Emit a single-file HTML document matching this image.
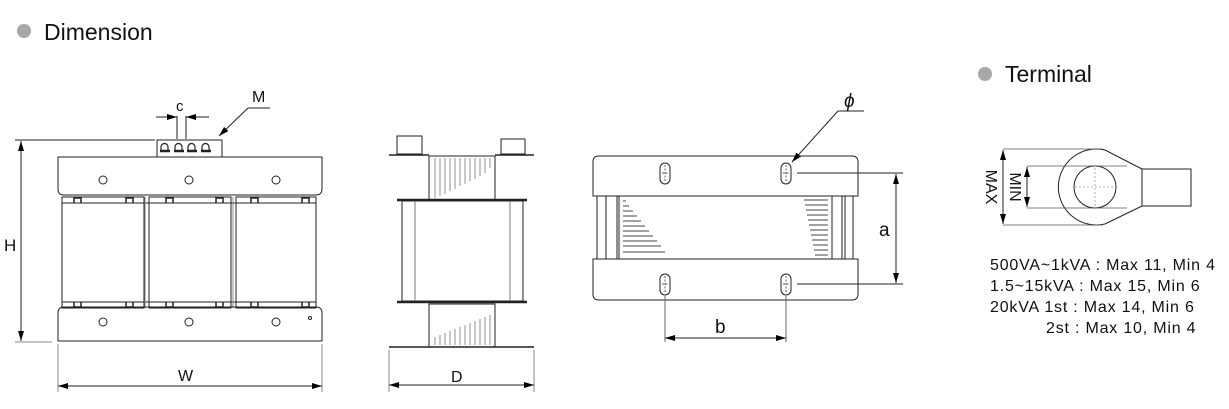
<!DOCTYPE html>
<html><head><meta charset="utf-8"><style>
html,body{margin:0;padding:0;background:#fff;width:1229px;height:409px;overflow:hidden}
svg{display:block}
text{font-family:"Liberation Sans",sans-serif;fill:#111}
</style></head><body>
<svg width="1229" height="409" viewBox="0 0 1229 409" xmlns="http://www.w3.org/2000/svg">
<defs>
<marker id="ar" viewBox="0 0 10 6" refX="10" refY="3" markerWidth="10" markerHeight="6" orient="auto-start-reverse" markerUnits="userSpaceOnUse"><path d="M0,0L10,3L0,6z" fill="#000"/></marker>
</defs>
<circle cx="24" cy="31" r="7" fill="#a8a8a8"/>
<text x="44" y="40" font-size="23">Dimension</text>
<circle cx="985" cy="74" r="7" fill="#a8a8a8"/>
<text x="1005" y="82" font-size="23">Terminal</text>

<g stroke="#222" stroke-width="1" fill="none">
<rect x="157" y="140" width="65" height="17" fill="#fff"/>
<g stroke-width="1.2">
<path d="M161,151v-4a3.5,3.5 0 0 1 7,0v4M175,151v-4a3.5,3.5 0 0 1 7,0v4M188,151v-4a3.5,3.5 0 0 1 7,0v4M202,151v-4a3.5,3.5 0 0 1 7,0v4"/>
<path d="M160,151h10M174,151h10M187,151h10M201,151h10" stroke-width="2.5"/>
</g>
<path d="M58,157H322V189Q322,195 316,195H64Q58,195 58,189Z"/>
<rect x="62" y="197" width="82" height="111"/>
<rect x="149" y="197" width="82" height="111"/>
<rect x="236" y="197" width="80" height="111"/>
<line x1="62" y1="203" x2="316" y2="203"/>
<line x1="62" y1="302" x2="316" y2="302"/>
<line x1="145" y1="197" x2="145" y2="308" stroke="#888"/>
<line x1="233" y1="197" x2="233" y2="308" stroke="#888"/>
<path d="M64,307H316Q322,307 322,313V341H58V313Q58,307 64,307Z"/>
<circle cx="103" cy="180" r="4"/><circle cx="189" cy="180" r="4"/><circle cx="276" cy="180" r="4"/>
<circle cx="103" cy="322" r="4"/><circle cx="189" cy="322" r="4"/><circle cx="276" cy="322" r="4"/>
<circle cx="310" cy="318" r="1.5"/>
<g stroke-width="1.5">
<path d="M74,203v-5h7v5M166,203v-5h7v5M216,203v-5h7v5M251,203v-5h7v5M302,203v-5h7v5M126,203v-5h7v5"/>
<path d="M74,302v5h7v-5M166,302v5h7v-5M216,302v5h7v-5M251,302v5h7v-5M302,302v5h7v-5M126,302v5h7v-5"/>
</g>
<line x1="15" y1="140" x2="155" y2="140"/>
<line x1="15" y1="342" x2="52" y2="342" stroke="#888"/>
<line x1="21" y1="141" x2="21" y2="341" marker-start="url(#ar)" marker-end="url(#ar)"/>
<line x1="58" y1="344" x2="58" y2="392" stroke="#888"/>
<line x1="322" y1="344" x2="322" y2="392" stroke="#888"/>
<line x1="58" y1="386" x2="322" y2="386" marker-start="url(#ar)" marker-end="url(#ar)"/>
<line x1="177" y1="116" x2="177" y2="139"/><line x1="186" y1="116" x2="186" y2="139"/>
<line x1="156" y1="117" x2="177" y2="117" marker-end="url(#ar)"/>
<line x1="209" y1="117" x2="186" y2="117" marker-end="url(#ar)"/>
<line x1="248" y1="108" x2="270" y2="108"/>
<line x1="248" y1="108" x2="219" y2="136" marker-end="url(#ar)"/>

<rect x="397" y="136" width="25" height="18"/>
<rect x="501" y="139" width="24" height="15"/>
<line x1="389" y1="155" x2="429" y2="155" stroke-width="1.5"/>
<line x1="495" y1="155" x2="534" y2="155" stroke-width="1.5"/>
<rect x="429" y="156" width="66" height="44"/>
<rect x="429" y="304" width="66" height="43"/>
<line x1="397" y1="200" x2="527" y2="200" stroke-width="2.5"/>
<line x1="397" y1="302" x2="527" y2="302" stroke-width="2.5"/>
<rect x="402" y="201" width="121" height="100"/>
<line x1="415" y1="201" x2="415" y2="301" stroke="#777"/>
<line x1="510" y1="201" x2="510" y2="301" stroke="#777"/>
<line x1="389" y1="347" x2="534" y2="347" stroke-width="1.5"/>
<g stroke="#777" stroke-width="0.8">
<path d="M435,158v40M440,158v38M445,158v36M450,158v33M455,158v31M460,158v28M465,158v26M470,158v23M475,158v21M480,158v18M485,158v15M490,158v10"/>
<path d="M435,345v-8M440,345v-10M445,345v-12M450,345v-14M455,345v-16M460,345v-18M465,345v-20M470,345v-22M475,345v-24M480,345v-26M485,345v-28M490,345v-30"/>
</g>
<line x1="389" y1="350" x2="389" y2="392" stroke="#888"/>
<line x1="534" y1="350" x2="534" y2="392" stroke="#888"/>
<line x1="389" y1="385" x2="534" y2="385" marker-start="url(#ar)" marker-end="url(#ar)"/>

<path d="M599,156H852Q858,156 858,162V196H593V162Q593,156 599,156Z"/>
<path d="M593,259H858V294Q858,300 852,300H599Q593,300 593,294Z"/>
<path d="M597,196V259M606,196V259M617,196V259M619,196V259M832,196V259M842,196V259M845,196V259M853,196V259"/>
<g stroke="#444" stroke-width="1">
<path d="M623,201h3M623,206h6M623,211h10M623,216h14M623,221h18M623,226h22M623,231h26M623,236h30M623,241h34M623,246h38M623,252h42"/>
<path d="M804,200h24M805,205h23M806,210h22M807,215h21M808,220h20M809,225h19M810,230h18M811,235h17M812,240h16M813,245h15M814,250h14M815,255h13"/>
</g>
<rect x="660" y="163" width="10" height="21" rx="5"/>
<rect x="781" y="163" width="10" height="21" rx="5"/>
<rect x="660" y="274" width="10" height="21" rx="5"/>
<rect x="781" y="274" width="10" height="21" rx="5"/>
<g stroke-dasharray="2,1.5" stroke-width="0.7">
<path d="M665,165v17M662,173h6M786,165v17M783,173h6M665,276v17M662,284h6M786,276v17M783,284h6"/>
</g>
<line x1="797" y1="173" x2="903" y2="173"/>
<line x1="797" y1="284" x2="903" y2="284"/>
<line x1="896" y1="174" x2="896" y2="283" marker-start="url(#ar)" marker-end="url(#ar)"/>
<line x1="665" y1="296" x2="665" y2="342" stroke="#666"/>
<line x1="786" y1="296" x2="786" y2="342" stroke="#666"/>
<line x1="665" y1="338" x2="786" y2="338" marker-start="url(#ar)" marker-end="url(#ar)"/>
<line x1="838" y1="111" x2="864" y2="111"/>
<line x1="838" y1="111" x2="792" y2="162" marker-end="url(#ar)"/>

<path d="M1142,169L1105,150A38,38 0 1 0 1105,224L1142,206"/>
<rect x="1142" y="169" width="49" height="37"/>
<circle cx="1095" cy="187" r="21"/>
<g stroke="#999" stroke-dasharray="2,2" stroke-width="0.8"><path d="M1095,168v38M1075,187h40"/></g>
<path d="M1003,149h100M1003,225h100M1027,166h100M1027,208h100" stroke="#555" stroke-width="0.8"/>
<line x1="1003" y1="150" x2="1003" y2="224" marker-start="url(#ar)" marker-end="url(#ar)"/>
<line x1="1027" y1="167" x2="1027" y2="207" marker-start="url(#ar)" marker-end="url(#ar)"/>
</g>

<text x="4" y="251" font-size="17">H</text>
<text x="178" y="381" font-size="16">W</text>
<text x="176" y="111" font-size="15">c</text>
<text x="252" y="102" font-size="16">M</text>
<text x="451" y="382" font-size="16">D</text>
<text x="715" y="333" font-size="19">b</text>
<text x="879" y="236" font-size="19">a</text>
<text x="844" y="107" font-size="19" font-style="italic">ϕ</text>
<text transform="translate(986,187) rotate(90)" text-anchor="middle" font-size="16">MAX</text>
<text transform="translate(1010,187) rotate(90)" text-anchor="middle" font-size="16">MIN</text>
<g font-size="16" letter-spacing="0.8">
<text x="990" y="270">500VA~1kVA : Max 11,  Min 4</text>
<text x="990" y="291">1.5~15kVA : Max 15,  Min 6</text>
<text x="990" y="312">20kVA 1st : Max 14,  Min 6</text>
<text x="1046" y="333">2st : Max 10,  Min 4</text>
</g>
</svg>
</body></html>
